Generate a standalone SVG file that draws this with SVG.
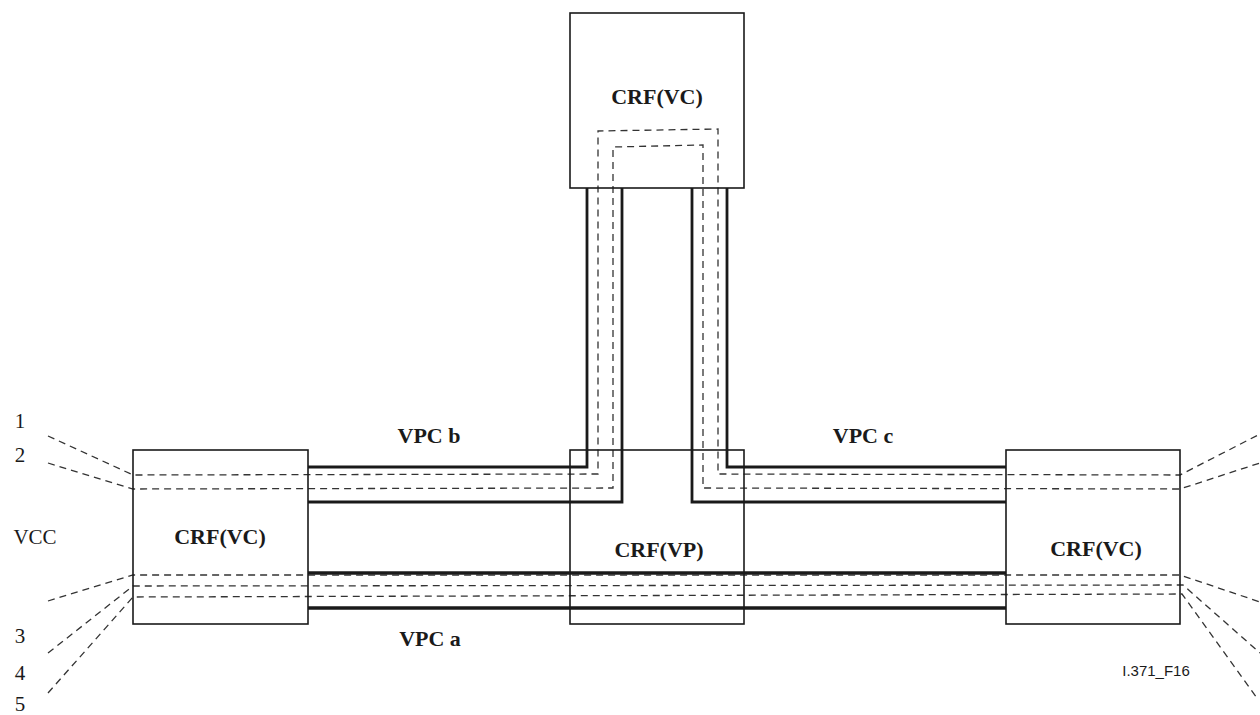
<svg xmlns="http://www.w3.org/2000/svg" width="1260" height="715" viewBox="0 0 1260 715">
<style>
.box{fill:none;stroke:#1a1a1a;stroke-width:1.6}
.thick{fill:none;stroke:#1a1a1a;stroke-width:2.8}
.thicker{fill:none;stroke:#1a1a1a;stroke-width:3.4}
.dash{fill:none;stroke:#333;stroke-width:1.3;stroke-dasharray:7,5}
.lbl{font-family:"Liberation Serif","Times New Roman",serif;font-weight:bold;font-size:22px;fill:#1a1a1a;text-anchor:middle}
.num{font-family:"Liberation Serif","Times New Roman",serif;font-size:21px;fill:#1a1a1a;text-anchor:middle}
.code{font-family:"Liberation Sans",Arial,sans-serif;font-size:15px;fill:#1a1a1a;text-anchor:middle}
</style>
<rect width="1260" height="715" fill="#fff"/>
<g id="connectors">
  <polyline class="thick" points="308,467 587,467 587,188"/>
  <polyline class="thick" points="308,502 622,502 622,188"/>
  <polyline class="thick" points="727,188 727,467 1006,467"/>
  <polyline class="thick" points="692,188 692,502 1006,502"/>
  <line class="thicker" x1="308" y1="573" x2="1006" y2="573"/>
  <line class="thicker" x1="308" y1="608" x2="1006" y2="608"/>
  <polyline class="dash" points="48,436 133,475 598,474 598,131 718,129 718,474 1180,475 1260,434"/>
  <polyline class="dash" points="48,463 133,489 613,488 613,147 703,145 703,488 1180,489 1260,463"/>
  <polyline class="dash" points="48,601 133,575 1180,575 1260,602"/>
  <polyline class="dash" points="48,653 133,586 1183,585 1260,653"/>
  <polyline class="dash" points="48,693 133,597 1182,594 1257,698"/>
</g>
<g id="crf-vc-top">
  <rect class="box" x="570" y="13" width="174" height="175"/>
  <text class="lbl" x="657" y="104">CRF(VC)</text>
</g>
<g id="crf-vp">
  <rect class="box" x="570" y="450" width="174" height="174"/>
  <text class="lbl" x="659" y="557">CRF(VP)</text>
</g>
<g id="crf-vc-left">
  <rect class="box" x="133" y="450" width="175" height="174"/>
  <text class="lbl" x="220" y="544">CRF(VC)</text>
</g>
<g id="crf-vc-right">
  <rect class="box" x="1006" y="450" width="174" height="174"/>
  <text class="lbl" x="1096" y="556">CRF(VC)</text>
</g>
<g id="labels">
  <text class="lbl" x="429" y="443">VPC b</text>
  <text class="lbl" x="863" y="443">VPC c</text>
  <text class="lbl" x="430" y="646">VPC a</text>
  <text class="num" x="20" y="428">1</text>
  <text class="num" x="20" y="462">2</text>
  <text class="num" x="35" y="544">VCC</text>
  <text class="num" x="20" y="643">3</text>
  <text class="num" x="20" y="680">4</text>
  <text class="num" x="20" y="711">5</text>
  <text class="code" x="1156" y="676">I.371_F16</text>
</g>
</svg>
